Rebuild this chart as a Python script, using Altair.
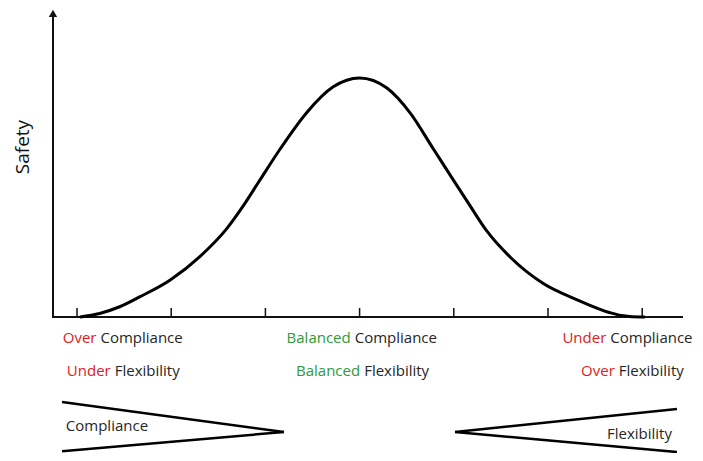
import altair as alt
import pandas as pd

# Bell curve (x in tick units 0..6, y = relative safety)
curve_x = [0.03, 0.24, 0.46, 0.67, 0.99, 1.31, 1.59, 1.77, 1.94, 2.16, 2.44, 2.72, 3.0,
           3.29, 3.54, 3.78, 4.03, 4.17, 4.35, 4.60, 4.95, 5.31, 5.66, 5.80, 5.98, 6.03]
curve_y = [0.0, 0.015, 0.044, 0.085, 0.155, 0.255, 0.370, 0.468, 0.572, 0.705, 0.856, 0.963, 1.0,
           0.958, 0.852, 0.705, 0.552, 0.467, 0.360, 0.250, 0.140, 0.072, 0.018, 0.005, 0.0, 0.0]

tick_x = [0, 1, 2, 3, 4, 5, 6]

# Labels under the axis: coloured word + black word, split point in tick units
label_word = ["Over", "Balanced", "Under", "Under", "Balanced", "Over"]
label_rest = ["Compliance", "Compliance", "Compliance", "Flexibility", "Flexibility", "Flexibility"]
label_color = ["#e0201b", "#2e9a3a", "#e0201b", "#e0201b", "#2e9a3a", "#e0201b"]
label_split = [0.228, 2.927, 5.64, 0.379, 3.027, 5.73]
label_row_y = [-0.088, -0.088, -0.088, -0.226, -0.226, -0.226]

# Wedges (Compliance shrinking left->right, Flexibility growing)
wedge_seg = ["c_top", "c_top", "c_bot", "c_bot", "f_top", "f_top", "f_bot", "f_bot"]
wedge_x = [-0.159, 2.197, -0.159, 2.197, 4.013, 6.369, 4.013, 6.369]
wedge_y = [-0.356, -0.481, -0.562, -0.481, -0.481, -0.385, -0.481, -0.565]
wedge_text = ["Compliance", "Flexibility"]
wedge_text_x = [0.318, 5.971]
wedge_text_y = [-0.456, -0.4895]

axis_x0, axis_x1 = -0.2548, 6.433
axis_ytop = 1.262
arrow_y = 1.27

X_DOM = [-0.7325, 6.5605]
Y_DOM = [-0.569, 1.2929]
xs = alt.Scale(domain=X_DOM, nice=False, zero=False)
ys = alt.Scale(domain=Y_DOM, nice=False, zero=False)

def X(f="x"):
    return alt.X(f + ":Q", scale=xs, axis=None)

def Y(f="y"):
    return alt.Y(f + ":Q", scale=ys, axis=None)

FONT = "Open Sans"

curve_df = pd.DataFrame({"x": curve_x, "y": curve_y})
curve = alt.Chart(curve_df).mark_line(color="black", strokeWidth=3, interpolate="monotone").encode(
    x=X(), y=Y())

axes_df = pd.DataFrame({"x": [axis_x0, axis_x0], "y": [0.0, -0.004],
                        "x2": [axis_x1, axis_x0], "y2": [0.0, axis_ytop]})
axes = alt.Chart(axes_df).mark_rule(color="#111111", strokeWidth=2).encode(
    x=X(), y=Y(), x2="x2:Q", y2="y2:Q")

arrow = alt.Chart(pd.DataFrame({"x": [axis_x0], "y": [arrow_y]})).mark_point(
    shape="triangle-up", filled=True, size=70, color="#111111", opacity=1).encode(x=X(), y=Y())

ticks_df = pd.DataFrame({"x": tick_x, "y": [0.0] * len(tick_x), "y2": [0.038] * len(tick_x)})
ticks = alt.Chart(ticks_df).mark_rule(color="#111111", strokeWidth=1.5).encode(
    x=X(), y=Y(), y2="y2:Q")

ylab = alt.Chart(pd.DataFrame({"x": [-0.568], "y": [0.711], "t": ["Safety"]})).mark_text(
    angle=270, font=FONT, fontSize=19, color="#111111", baseline="middle", align="center").encode(
    x=X(), y=Y(), text="t:N")

lab_df = pd.DataFrame({"x": label_split, "y": label_row_y, "w": label_word, "r": label_rest,
                       "c": label_color})
lab_colored = alt.Chart(lab_df).mark_text(font=FONT, fontSize=15, align="right", baseline="middle",
                                          dx=-2).encode(
    x=X(), y=Y(), text="w:N", color=alt.Color("c:N", scale=None))
lab_black = alt.Chart(lab_df).mark_text(font=FONT, fontSize=15, align="left", baseline="middle",
                                        dx=2, color="#262626").encode(
    x=X(), y=Y(), text="r:N")

wedge_df = pd.DataFrame({"seg": wedge_seg, "x": wedge_x, "y": wedge_y,
                         "o": list(range(len(wedge_x)))})
wedges = alt.Chart(wedge_df).mark_line(color="black", strokeWidth=2.5).encode(
    x=X(), y=Y(), detail="seg:N", order="o:Q")

wtext = alt.Chart(pd.DataFrame({"x": wedge_text_x, "y": wedge_text_y, "t": wedge_text})).mark_text(
    font=FONT, fontSize=15, color="#262626", align="center", baseline="middle").encode(
    x=X(), y=Y(), text="t:N")

chart = alt.layer(axes, ticks, curve, arrow, ylab, lab_colored, lab_black, wedges, wtext).properties(
    width=687, height=445, padding=0, autosize="none"
).configure_view(stroke=None)

chart.save("out.html", embed_options={"renderer": "svg", "actions": False})
